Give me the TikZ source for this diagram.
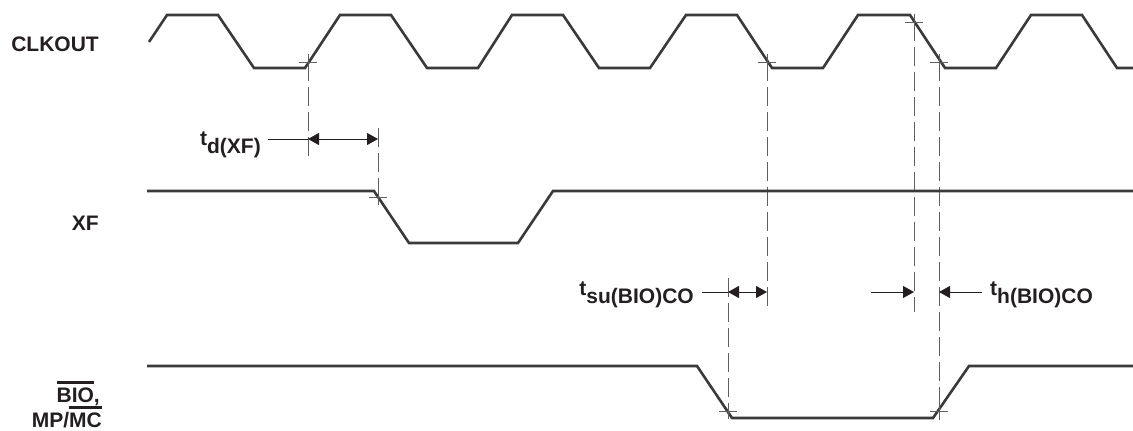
\documentclass[tikz,border=0pt]{standalone}
\usepackage{fontspec}
\setmainfont{Liberation Sans}
\usepackage{tikz}
\usetikzlibrary{arrows.meta}

\definecolor{inkblack}{RGB}{35,31,32}
\definecolor{wavegray}{RGB}{58,58,60}
\definecolor{guidegray}{RGB}{95,95,95}
\newcommand\sigfont{\fontsize{21}{25}\selectfont\bfseries}
\newcommand\tsub[1]{t\raisebox{-8.5pt}{#1}}
\newsavebox\ovlbox
\newcommand\ovl[1]{\sbox\ovlbox{#1}\rlap{\rule[18.5pt]{\wd\ovlbox}{2.6pt}}\usebox\ovlbox}

\begin{document}
\begin{tikzpicture}[x=1pt, y=-1pt, >={Triangle[length=11pt, width=12pt]},
    every node/.style={font=\sigfont, text=inkblack, inner sep=0pt},
    wave/.style={draw=wavegray, line width=2.6pt, line join=miter},
    guide/.style={draw=guidegray, line width=1pt, dash pattern=on 19pt off 6pt},
    xhair/.style={draw=guidegray, line width=1pt},
    dim/.style={draw=inkblack, line width=1pt}]
    % Page size - same as the reference
    \useasboundingbox (0,0) rectangle (1133,431);

    % Signal names - right aligned at the left
    \node[anchor=base east] (clklbl) at (99,51) {CLKOUT};
    \node[anchor=base east] (xflbl) at (99,230) {XF};
    \node[anchor=base east] (biolbl) at (100,402) {\ovl{BIO},};
    \node[anchor=base east] (mplbl) at (102,427) {MP/\ovl{MC}};

    % Edge points on the waveforms
    \coordinate (clkrise) at (308,62);
    \coordinate (xffall) at (378,197);
    \coordinate (clkfallA) at (767,62);
    \coordinate (clkfallB) at (914,22);
    \coordinate (clkfallC) at (939,62);
    \coordinate (biofall) at (728,411);
    \coordinate (biorise) at (939,411);

    % Free ends of the dashed lines
    \coordinate (clkriseend) at (308,157);
    \coordinate (xffalltop) at (378,128);
    \coordinate (clkfallAend) at (767,310);
    \coordinate (clkfallBend) at (914,312);
    \coordinate (clkfallCend) at (939,420);
    \coordinate (biofalltop) at (728,278);

    % Dashed lines
    \draw[guide] (clkrise) -- (clkriseend);
    \draw[guide] (xffalltop) -- (xffall);
    \draw[guide] (clkfallA) -- (clkfallAend);
    \draw[guide] (clkfallB) -- (clkfallBend);
    \draw[guide] (clkfallC) -- (clkfallCend);
    \draw[guide] (biofalltop) -- (biofall);

    % CLKOUT waveform
    \draw[wave] (149,42) -- (167,15) -- (218,15) -- (254,68) -- (305,68)
        -- (340,15) -- (391,15) -- (427,68) -- (478,68)
        -- (512,15) -- (563,15) -- (599,68) -- (650,68)
        -- (686,15) -- (737,15) -- (772,68) -- (823,68)
        -- (858,15) -- (910,15) -- (945,68) -- (996,68)
        -- (1031,15) -- (1082,15) -- (1117,68) -- (1133,68);

    % XF waveform
    \draw[wave] (147,191) -- (374,191) -- (409,243) -- (518,243) -- (553,191) -- (1133,191);

    % BIO waveform
    \draw[wave] (147,366) -- (697,366) -- (732,418) -- (933,418) -- (969,366) -- (1133,366);

    % Crosshairs on the edges
    \draw[xhair] (clkrise) +(-9,0) -- +(9,0) (clkrise) +(0,-8) -- +(0,8);
    \draw[xhair] (xffall) +(-9,0) -- +(9,0) (xffall) +(0,-8) -- +(0,8);
    \draw[xhair] (clkfallA) +(-9,0) -- +(9,0) (clkfallA) +(0,-8) -- +(0,8);
    \draw[xhair] (clkfallB) +(-9,0) -- +(9,0) (clkfallB) +(0,-8) -- +(0,8);
    \draw[xhair] (clkfallC) +(-9,0) -- +(9,0) (clkfallC) +(0,-8) -- +(0,8);
    \draw[xhair] (biofall) +(-9,0) -- +(9,0) (biofall) +(0,-8) -- +(0,8);
    \draw[xhair] (biorise) +(-9,0) -- +(9,0) (biorise) +(0,-8) -- +(0,8);

    % Timing labels
    \node[anchor=base east] (tdlbl) at (261,145) {\tsub{d(XF)}};
    \node[anchor=base east] (sulbl) at (694,295) {\tsub{su(BIO)CO}};
    \node[anchor=base west] (hlbl) at (990,295) {\tsub{h(BIO)CO}};

    % Arrow ends
    \coordinate (tdlead) at (268,139);
    \coordinate (tdA) at (308,139);
    \coordinate (tdB) at (378,139);
    \coordinate (sulead) at (702,292);
    \coordinate (suA) at (728,292);
    \coordinate (suB) at (767,292);
    \coordinate (hleadL) at (871,292);
    \coordinate (hA) at (914,292);
    \coordinate (hB) at (939,292);
    \coordinate (hleadR) at (982,292);

    % Timing arrows
    \draw[dim] (tdlead) -- (tdA);
    \draw[dim, <->] (tdA) -- (tdB);
    \draw[dim] (sulead) -- (suA);
    \draw[dim, <->] (suA) -- (suB);
    \draw[dim, ->] (hleadL) -- (hA);
    \draw[dim, ->] (hleadR) -- (hB);
\end{tikzpicture}
\end{document}
